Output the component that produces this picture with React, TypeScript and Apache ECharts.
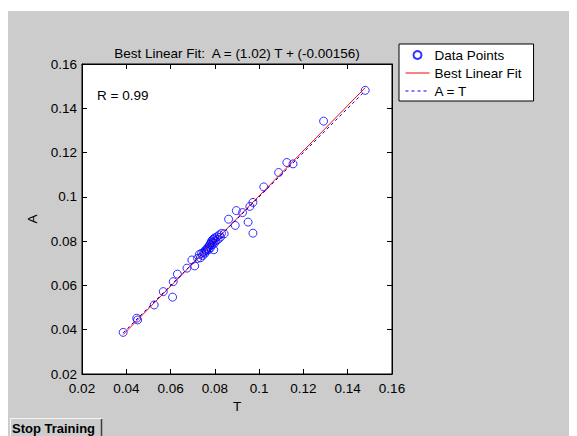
import React, { useEffect, useRef } from "react";
import * as echarts from "echarts";

// Targets (T) and network outputs (A) for the regression plot
const targets = [
  0.0386, 0.0451, 0.0447, 0.0526, 0.0567, 0.0609, 0.0612, 0.0631, 0.0674, 0.0696,
  0.0709, 0.0722, 0.073, 0.0735, 0.074, 0.0745, 0.075, 0.0755, 0.0758, 0.0762,
  0.0765, 0.0768, 0.0772, 0.0775, 0.0778, 0.078, 0.0782, 0.0785, 0.0788, 0.079,
  0.0792, 0.0795, 0.0795, 0.0798, 0.08, 0.0805, 0.081, 0.0815, 0.082, 0.0825,
  0.083, 0.0842, 0.0862, 0.0892, 0.0897, 0.0925, 0.095, 0.0958, 0.0972, 0.0972,
  0.1021, 0.1088, 0.1125, 0.1153, 0.1291, 0.1479,
];
const outputs = [
  0.0388, 0.0444, 0.0452, 0.0512, 0.0572, 0.0547, 0.0617, 0.0651, 0.0678, 0.0715,
  0.0688, 0.0722, 0.074, 0.0725, 0.0745, 0.0735, 0.075, 0.0745, 0.076, 0.0755,
  0.0765, 0.0772, 0.0762, 0.0778, 0.0785, 0.077, 0.0792, 0.08, 0.0783, 0.0806,
  0.0795, 0.0761, 0.081, 0.079, 0.0815, 0.0802, 0.082, 0.0808, 0.0828, 0.0818,
  0.0835, 0.0833, 0.0899, 0.0871, 0.0938, 0.0929, 0.0886, 0.0957, 0.0975, 0.0836,
  0.1045, 0.111, 0.1155, 0.1149, 0.1342, 0.1481,
];

// Regression results
const fitSlope = 1.02;
const fitIntercept = -0.00156;
const rValue = 0.99;

const axisTicks = [0.02, 0.04, 0.06, 0.08, 0.1, 0.12, 0.14, 0.16];
const legendNames = ["Data Points", "Best Linear Fit", "A = T"];

const FONT = "'Liberation Sans', Arial, sans-serif";

export default function App() {
  const ref = useRef<HTMLDivElement>(null);

  useEffect(() => {
    if (!ref.current) return;
    const chart = echarts.init(ref.current, undefined, { renderer: "svg" });

    const points = targets.map((t, i) => [t, outputs[i]]);
    const tMin = Math.min(...targets);
    const tMax = Math.max(...targets);
    const fitLine = [
      [tMin, fitSlope * tMin + fitIntercept],
      [tMax, fitSlope * tMax + fitIntercept],
    ];
    const identityLine = [
      [tMin, tMin],
      [tMax, tMax],
    ];

    const axisMin = axisTicks[0];
    const axisMax = axisTicks[axisTicks.length - 1];
    const step = axisTicks[1] - axisTicks[0];
    const fmt = (v: number) => String(+v.toFixed(2));

    const baseAxis = {
      type: "value" as const,
      min: axisMin,
      max: axisMax,
      interval: step,
      axisLine: { show: true, lineStyle: { color: "#000", width: 1 } },
      axisTick: { show: true, inside: true, length: 5, lineStyle: { color: "#000" } },
      splitLine: { show: false },
    };

    chart.setOption({
      animation: false,
      textStyle: { fontFamily: FONT },
      title: {
        text: `Best Linear Fit:  A = (${fitSlope.toFixed(2)}) T + (${fitIntercept})`,
        left: 232,
        top: 41,
        textAlign: "center",
        textStyle: { fontFamily: FONT, fontSize: 13.5, fontWeight: "normal", color: "#000" },
      },
      legend: {
        data: [
          { name: legendNames[0] },
          { name: legendNames[1], itemStyle: { opacity: 0 }, lineStyle: { width: 1, color: "#ff0000" } },
          {
            name: legendNames[2],
            itemStyle: { opacity: 0 },
            lineStyle: { width: 1, color: "#0000ff", type: [3, 3] },
          },
        ],
        orient: "vertical",
        left: 399,
        top: 44,
        padding: [4, 12, 3, 6],
        itemWidth: 24,
        itemHeight: 8,
        itemGap: 4,
        itemTextGap: 8,
        backgroundColor: "#fff",
        borderColor: "#000",
        borderWidth: 1,
        borderRadius: 0,
        selectedMode: false,
        textStyle: { fontFamily: FONT, fontSize: 13.5, color: "#000" },
      },
      grid: {
        left: 82,
        top: 64,
        width: 310,
        height: 310,
        show: true,
        backgroundColor: "#fff",
        borderColor: "#000",
        borderWidth: 1,
      },
      xAxis: [
        {
          ...baseAxis,
          position: "bottom",
          name: "T",
          nameLocation: "middle",
          nameGap: 23,
          nameTextStyle: { fontFamily: FONT, fontSize: 13.5, color: "#000" },
          axisLabel: { color: "#000", fontFamily: FONT, fontSize: 13.5, margin: 7, formatter: fmt },
        },
        { ...baseAxis, position: "top", axisLabel: { show: false } },
      ],
      yAxis: [
        {
          ...baseAxis,
          position: "left",
          name: "A",
          nameLocation: "middle",
          nameGap: 40,
          nameTextStyle: { fontFamily: FONT, fontSize: 13.5, color: "#000" },
          axisLabel: { color: "#000", fontFamily: FONT, fontSize: 13.5, margin: 5, formatter: fmt },
        },
        { ...baseAxis, position: "right", axisLabel: { show: false } },
      ],
      graphic: [
        {
          type: "text",
          left: 97,
          top: 88,
          style: { text: `R = ${rValue}`, font: `13.5px ${FONT}`, fill: "#000" },
        },
        {
          type: "line",
          shape: { x1: 10, y1: 418.5, x2: 102, y2: 418.5 },
          style: { stroke: "#f4f4f4", lineWidth: 1 },
        },
        {
          type: "line",
          shape: { x1: 10.5, y1: 418, x2: 10.5, y2: 436 },
          style: { stroke: "#f4f4f4", lineWidth: 1 },
        },
        {
          type: "line",
          shape: { x1: 101.5, y1: 419, x2: 101.5, y2: 436 },
          style: { stroke: "#404040", lineWidth: 1.5 },
        },
        {
          type: "text",
          left: 12,
          top: 422,
          style: { text: "Stop Training", font: `bold 13px ${FONT}`, fill: "#000" },
        },
      ],
      series: [
        {
          name: legendNames[0],
          type: "scatter",
          data: points,
          symbol: "circle",
          symbolSize: 8,
          itemStyle: { color: "transparent", borderColor: "#0000ff", borderWidth: 1 },
          z: 2,
        },
        {
          name: legendNames[1],
          type: "line",
          data: fitLine,
          showSymbol: false,
          symbol: "none",
          lineStyle: { color: "#ff0000", width: 1 },
          itemStyle: { color: "#ff0000" },
          z: 3,
        },
        {
          name: legendNames[2],
          type: "line",
          data: identityLine,
          showSymbol: false,
          symbol: "none",
          lineStyle: { color: "#0000ff", width: 1, type: [3, 3] },
          itemStyle: { color: "#0000ff" },
          z: 4,
        },
      ],
    });

    return () => chart.dispose();
  }, []);

  return (
    <div
      style={{
        position: "relative",
        width: 577,
        height: 436,
        marginLeft: -8,
        marginTop: -8,
        background: "#fff",
        overflow: "hidden",
      }}
    >
      <div
        style={{
          position: "absolute",
          left: 7,
          top: 11,
          right: 0,
          bottom: 0,
          background: "#cccccc",
        }}
      />
      <div ref={ref} style={{ position: "absolute", left: 0, top: 0, width: 577, height: 436 }} />
    </div>
  );
}
